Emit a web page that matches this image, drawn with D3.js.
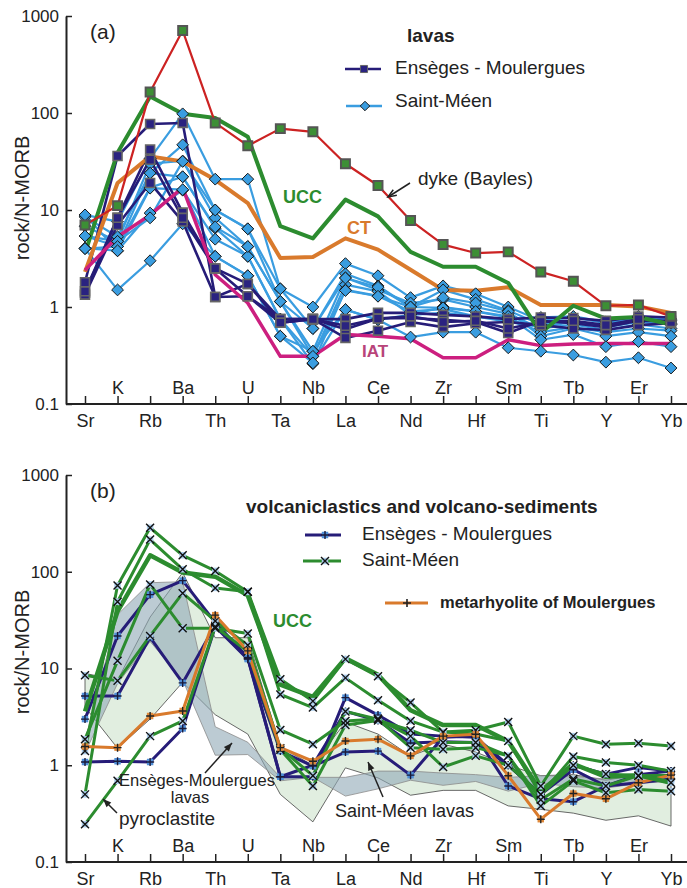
<!DOCTYPE html>
<html lang="en">
<head>
<meta charset="utf-8">
<title>N-MORB normalised spider diagrams</title>
<script src="https://cdn.jsdelivr.net/npm/d3@7"></script>
<style>
  body { margin: 0; background: #fff; }
  svg { display: block; font-family: "Liberation Sans", Arial, sans-serif; }
</style>
</head>
<body>
<script>

// element order on the x axis
var elements = ["Sr","K","Rb","Ba","Th","U","Ta","Nb","La","Ce","Nd","Zr","Hf","Sm","Ti","Tb","Y","Er","Yb"];

// reference patterns
var ucc  = [3.6, 39, 148, 98, 89, 57, 6.8, 5.1, 12.8, 8.6, 3.7, 2.6, 2.6, 1.77, 0.54, 1.03, 0.76, 0.79, 0.66];
var ct   = [2.3, 19, 35.7, 31.7, 20.5, 11.8, 3.2, 3.28, 5.1, 3.9, 2.42, 1.5, 1.47, 1.6, 1.05, 1.05, 1.05, 1.01, 0.87];
var iat  = [2.4, 5.3, 8.9, 17, 2.15, 1.1, 0.31, 0.31, 0.52, 0.5, 0.47, 0.3, 0.3, 0.46, 0.4, 0.415, 0.42, 0.42, 0.42];
var dyke = [7.0, 11.1, 165, 708, 79, 46, 69, 64, 30, 17.9, 7.8, 4.4, 3.6, 3.7, 2.3, 1.84, 1.03, 1.05, 0.8];

// (a) lavas - Ensèges - Moulergues
var lavaEnseges = [
  [1.8, 36, 77, 79, 1.27, 1.29, 0.75, 0.75, 0.75, 0.87, 0.87, 0.83, 0.8, 0.75, 0.78, 0.77, 0.72, 0.8, 0.78],
  [1.4, 8.3, 42, 9.4, 2.5, 1.73, 0.69, 0.75, 0.59, 0.76, 0.77, 0.74, 0.7, 0.54, 0.72, 0.68, 0.62, 0.72, 0.72],
  [1.34, 7.0, 19, 7.6, 1.27, 1.73, 0.75, 0.75, 0.48, 0.57, 0.7, 0.62, 0.68, 0.7, 0.65, 0.6, 0.58, 0.65, 0.68],
  [1.45, 8.3, 33, 8.3, 2.5, 1.29, 0.69, 0.75, 0.64, 0.76, 0.8, 0.7, 0.72, 0.6, 0.7, 0.72, 0.65, 0.75, 0.7]
];

// (a) lavas - Saint-Méen
var lavaSaintMeen = [
  [8.9, 7.6, 34, 98, 20.8, 20.8, 1.54, 1.0, 2.8, 2.1, 1.25, 1.65, 1.37, 1.0, 0.72, 0.78, 0.68, 0.78, 0.72],
  [8.5, 5.3, 24, 47, 10, 6.4, 1.14, 0.6, 2.2, 1.65, 1.0, 1.5, 1.2, 0.92, 0.66, 0.72, 0.62, 0.7, 0.66],
  [6.8, 4.75, 30, 32, 8.3, 4.2, 1.14, 0.35, 2.0, 1.5, 1.1, 1.2, 1.0, 0.85, 0.6, 0.66, 0.58, 0.66, 0.6],
  [5.4, 4.2, 17, 22, 6.5, 3.33, 0.75, 0.31, 1.7, 1.45, 0.83, 1.0, 0.9, 0.78, 0.55, 0.62, 0.55, 0.6, 0.57],
  [4.05, 3.8, 9.3, 16, 5.0, 3.33, 0.75, 0.26, 1.5, 1.3, 0.9, 0.95, 0.8, 0.7, 0.62, 0.7, 0.65, 0.72, 0.68],
  [4.0, 1.5, 3.0, 7.2, 3.33, 2.1, 0.5, 0.35, 0.94, 0.74, 0.49, 0.55, 0.55, 0.38, 0.35, 0.32, 0.27, 0.3, 0.235],
  [5.4, 4.75, 8.3, 31.7, 10, 6.4, 1.54, 0.6, 1.99, 1.6, 1.0, 1.25, 1.1, 0.9, 0.5, 0.6, 0.5, 0.55, 0.5],
  [4.0, 4.2, 24, 22, 6.7, 4.2, 1.14, 0.31, 1.48, 1.29, 1.0, 0.98, 0.9, 0.8, 0.46, 0.52, 0.39, 0.44, 0.39],
  [8.9, 3.8, 16.8, 16.2, 3.33, 2.1, 0.5, 0.265, 0.94, 0.74, 0.83, 0.87, 0.8, 0.74, 0.78, 0.8, 0.7, 0.8, 0.75]
];

// (b) volcaniclastics - Ensèges - Moulergues
var vcEnseges = [
  [3.0, 21.7, 58, 81, 30, 13, 0.76, 0.76, 5.0, 3.3, 2.1, 2.0, 1.95, 1.0, 0.5, 1.0, 0.81, 0.95, 0.87],
  [5.2, 5.2, 21, 7.1, 28, 12.7, 0.76, 1.0, 3.6, 2.9, 1.7, 1.75, 1.72, 1.0, 0.5, 0.9, 0.61, 0.8, 0.87],
  [1.08, 1.1, 1.08, 2.4, 27, 12.5, 1.4, 0.98, 1.37, 1.4, 0.79, 1.95, 2.0, 0.61, 0.45, 0.42, 0.61, 0.66, 0.72]
];

// (b) volcaniclastics - Saint-Méen (last one is the pyroclastite)
var vcSaintMeen = [
  [1.4, 72, 285, 148, 102, 62, 7.75, 4.6, 12.5, 8.3, 4.45, 2.2, 2.3, 2.8, 0.61, 2.0, 1.65, 1.69, 1.58],
  [0.5, 49, 215, 106, 68, 62, 5.4, 3.95, 8.0, 4.7, 2.87, 2.2, 2.1, 1.78, 0.5, 1.23, 1.07, 1.0, 0.87],
  [1.86, 12, 74, 26, 26, 23, 2.32, 1.65, 2.87, 3.0, 1.52, 1.46, 1.52, 1.25, 0.38, 0.69, 0.52, 0.56, 0.54],
  [8.5, 7.45, 21.7, 60, 31, 17.4, 1.5, 0.78, 3.6, 3.0, 2.0, 0.96, 1.25, 1.0, 0.5, 1.0, 0.81, 0.78, 0.79],
  [0.246, 0.69, 2.0, 2.87, 27, 15, 1.45, 0.61, 2.6, 2.9, 2.3, 1.72, 1.72, 1.25, 0.44, 0.72, 0.61, 0.78, 0.66]
];

// (b) metarhyolite of Moulergues
var metarhyolite = [1.56, 1.52, 3.23, 3.64, 35.6, 15.2, 1.52, 1.1, 1.78, 1.86, 1.25, 2.0, 2.09, 0.78, 0.277, 0.51, 0.45, 0.66, 0.79];

var yTicks = [0.1, 1, 10, 100, 1000];

//Width and height
var w = 687;
var h = 888;

var svg = d3.select("body").append("svg")
            .attr("width", w)
            .attr("height", h);

var xScale = d3.scalePoint().domain(elements).range([85, 671]);
var yA = d3.scaleLog().domain([0.1, 1000]).range([404, 16]);
var yB = d3.scaleLog().domain([0.1, 1000]).range([862, 475]);

//colours
var cNavy = "#261c78", cBlue = "#3a9de0", cGreen = "#2c8c2f", cOrange = "#d97a2c",
    cMagenta = "#cc1f7f", cRed = "#cc2222";

//diamond and cross shapes for markers
var diamond = { draw: function(ctx, size) {
  var r = Math.sqrt(size / 2);
  ctx.moveTo(0, -r); ctx.lineTo(r, 0); ctx.lineTo(0, r); ctx.lineTo(-r, 0); ctx.closePath();
}};
var xCross = { draw: function(ctx, size) {
  var r = Math.sqrt(size) / 2;
  ctx.moveTo(-r, -r); ctx.lineTo(r, r); ctx.moveTo(r, -r); ctx.lineTo(-r, r);
}};
var plus = { draw: function(ctx, size) {
  var r = Math.sqrt(size) / 2;
  ctx.moveTo(-r, 0); ctx.lineTo(r, 0); ctx.moveTo(0, -r); ctx.lineTo(0, r);
}};

function lineGen(y) {
  return d3.line()
           .x(function(d, i) { return xScale(elements[i]); })
           .y(function(d) { return y(d); });
}

function drawAxes(y, labelCenter) {
  var base = y(0.1);
  var gy = svg.append("g")
              .attr("transform", "translate(66,0)")
              .call(d3.axisLeft(y).tickValues(yTicks).tickFormat(d3.format("~g"))
                      .tickSizeInner(-6).tickSizeOuter(0).tickPadding(7));
  gy.attr("font-family", null).attr("font-size", 17).attr("color", "#222");
  gy.select(".domain").attr("stroke-width", 2);
  gy.selectAll(".tick line").attr("stroke-width", 1.5);

  var gx = svg.append("g")
              .attr("transform", "translate(0," + base + ")")
              .call(d3.axisBottom(xScale).tickSizeInner(-8).tickSizeOuter(0));
  gx.attr("font-family", null).attr("font-size", 18).attr("color", "#222");
  gx.select(".domain").remove();
  gx.append("line").attr("x1", 66).attr("x2", 687)
    .attr("stroke", "#222").attr("stroke-width", 2);
  gx.selectAll(".tick line").attr("stroke-width", 1.5);
  gx.selectAll(".tick text")
    .attr("dy", null)
    .attr("y", function(d, i) { return i % 2 ? -10 : 23; });

  svg.append("text")
     .attr("transform", "translate(29," + labelCenter + ") rotate(-90)")
     .attr("text-anchor", "middle")
     .attr("font-size", 20)
     .attr("fill", "#222")
     .text("rock/N-MORB");
}

function drawLines(data, y, color, width) {
  svg.append("g").selectAll("path")
     .data(data).enter().append("path")
     .attr("d", lineGen(y))
     .attr("fill", "none")
     .attr("stroke", color)
     .attr("stroke-width", width)
     .attr("stroke-linejoin", "round");
}

function drawMarkers(data, y, type, size, fill, stroke, sw) {
  var pts = [];
  data.forEach(function(s) { s.forEach(function(v, i) { pts.push([i, v]); }); });
  svg.append("g").selectAll("path")
     .data(pts).enter().append("path")
     .attr("transform", function(d) { return "translate(" + xScale(elements[d[0]]) + "," + y(d[1]) + ")"; })
     .attr("d", d3.symbol().type(type).size(size))
     .attr("fill", fill)
     .attr("stroke", stroke)
     .attr("stroke-width", sw);
}

function drawBoxCross(data, y, shape, fill, crossColor) {
  drawMarkers(data, y, d3.symbolSquare, 42, fill, "none", 0);
  drawMarkers(data, y, shape, 64, "none", crossColor, 1.4);
}

function legendMark(x, y, type, size, fill, stroke, sw) {
  svg.append("path").attr("transform", "translate(" + x + "," + y + ")")
     .attr("d", d3.symbol().type(type).size(size))
     .attr("fill", fill).attr("stroke", stroke).attr("stroke-width", sw);
}

function legendLine(x1, x2, y, color, width) {
  svg.append("line").attr("x1", x1).attr("x2", x2).attr("y1", y).attr("y2", y)
     .attr("stroke", color).attr("stroke-width", width);
}

function label(x, y, txt, size, weight, color, anchor) {
  svg.append("text")
     .attr("x", x).attr("y", y)
     .attr("font-size", size)
     .attr("font-weight", weight || "normal")
     .attr("fill", color || "#222")
     .attr("text-anchor", anchor || "start")
     .text(txt);
}

function arrow(x1, y1, x2, y2, open) {
  var a = Math.atan2(y2 - y1, x2 - x1), L = 9, s = 0.38;
  var p1 = [x2 - L * Math.cos(a - s), y2 - L * Math.sin(a - s)];
  var p2 = [x2 - L * Math.cos(a + s), y2 - L * Math.sin(a + s)];
  svg.append("line").attr("x1", x1).attr("y1", y1).attr("x2", x2).attr("y2", y2)
     .attr("stroke", "#222").attr("stroke-width", 1.5);
  if (open) {
    svg.append("path").attr("d", "M" + p1 + "L" + x2 + "," + y2 + "L" + p2)
       .attr("fill", "none").attr("stroke", "#222").attr("stroke-width", 1.5);
  } else {
    svg.append("path").attr("d", "M" + p1 + "L" + x2 + "," + y2 + "L" + p2 + "Z")
       .attr("fill", "#222");
  }
}

// ---------------- panel (a) ----------------
drawAxes(yA, 198);

drawLines(lavaSaintMeen, yA, cBlue, 2.2);
drawLines(lavaEnseges, yA, cNavy, 2.6);
drawLines([ct], yA, cOrange, 4);
drawLines([ucc], yA, cGreen, 4);
drawLines([iat], yA, cMagenta, 3.5);
drawLines([dyke], yA, cRed, 2.2);
drawMarkers(lavaSaintMeen, yA, diamond, 70, cBlue, "#1a1a1a", 1);
drawMarkers(lavaEnseges, yA, d3.symbolSquare, 80, "#2a2380", "#666", 1.6);
drawMarkers([dyke], yA, d3.symbolSquare, 80, "#3d8f35", "#555", 2);

label(90, 39, "(a)", 21);
label(407, 42, "lavas", 19, "bold");
legendLine(345, 381, 69, cNavy, 2.6);
legendMark(364, 69, d3.symbolSquare, 50, "#2a2380", "#666", 1);
label(395, 74, "Ensèges - Moulergues", 19);
legendLine(346, 382, 106, cBlue, 2.6);
legendMark(365, 106, diamond, 45, cBlue, "#1a1a1a", 1);
label(395, 107, "Saint-Méen", 19);

label(418, 185, "dyke (Bayles)", 19);
arrow(410, 183, 388, 197, true);
label(283, 203, "UCC", 18, "bold", cGreen);
label(347, 234, "CT", 18, "bold", cOrange);
label(362, 357, "IAT", 17, "bold", "#b8447a");

// ---------------- panel (b) ----------------
// fields of the lavas from panel (a)
function envelope(data) {
  return elements.map(function(e, i) {
    return [i, d3.min(data, function(s) { return s[i]; }), d3.max(data, function(s) { return s[i]; })];
  });
}
var area = d3.area()
             .x(function(d) { return xScale(elements[d[0]]); })
             .y0(function(d) { return yB(d[1]); })
             .y1(function(d) { return yB(d[2]); });

svg.append("path").attr("d", area(envelope(lavaSaintMeen)))
   .attr("fill", "#e1eee0").attr("stroke", "#444").attr("stroke-width", 0.8);
svg.append("path").attr("d", area(envelope(lavaEnseges)))
   .attr("fill", "#8fa8b6").attr("fill-opacity", 0.6)
   .attr("stroke", "#8a8a8a").attr("stroke-width", 0.8);

drawAxes(yB, 652);

drawLines(vcEnseges, yB, cNavy, 3);
drawLines(vcSaintMeen, yB, cGreen, 3);
drawLines([metarhyolite], yB, cOrange, 3);
drawLines([ucc], yB, cGreen, 4.5);
drawBoxCross(vcEnseges, yB, plus, "#4f8fd8", "#1a1a3a");
drawBoxCross(vcSaintMeen, yB, xCross, "#a9cbea", "#111");
drawBoxCross([metarhyolite], yB, plus, "#e08a3c", "#222");

label(90, 498, "(b)", 21);
label(246, 513, "volcaniclastics and volcano-sediments", 19, "bold");
legendLine(305, 341, 535, cNavy, 3);
legendMark(325, 535, d3.symbolSquare, 42, "#4f8fd8", "none", 0);
legendMark(325, 535, plus, 64, "none", "#1a1a3a", 1.4);
label(362, 540, "Ensèges - Moulergues", 19);
legendLine(303, 341, 561, cGreen, 3);
legendMark(325, 561, d3.symbolSquare, 42, "#a9cbea", "none", 0);
legendMark(325, 561, xCross, 64, "none", "#111", 1.4);
label(362, 566, "Saint-Méen", 19);
legendLine(385, 428, 603, cOrange, 3);
legendMark(407, 603, plus, 64, "none", "#222", 1.6);
label(440, 608, "metarhyolite of Moulergues", 16.5, "bold");
label(273, 627, "UCC", 18, "bold", cGreen);

label(119, 786, "Ensèges-Moulergues", 16.5);
label(190, 803, "lavas", 16.5, "normal", "#222", "middle");
arrow(205, 773, 232, 743, false);
label(119, 825, "pyroclastite", 19);
arrow(117, 813, 103, 799, false);
label(335, 817, "Saint-Méen lavas", 18);
arrow(383, 797, 368, 762, false);

</script>
</body>
</html>
